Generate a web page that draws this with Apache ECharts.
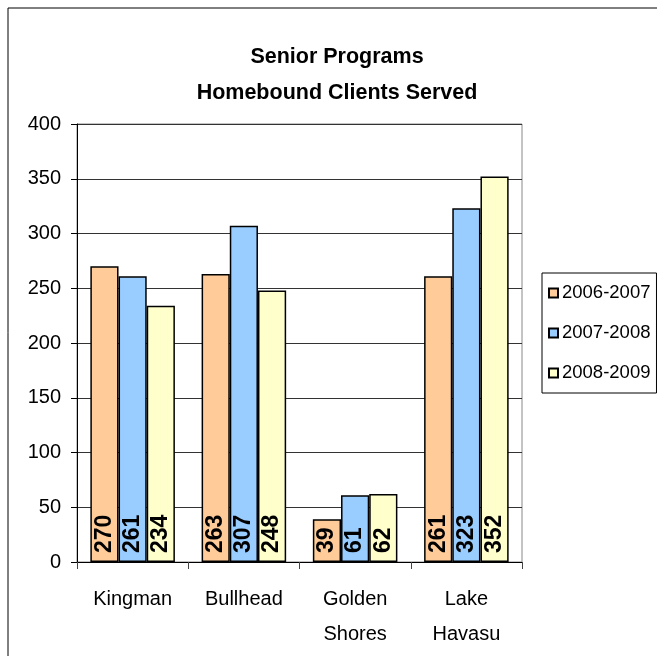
<!DOCTYPE html>
<html>
<head>
<meta charset="utf-8">
<script src="https://cdn.jsdelivr.net/npm/echarts@6/dist/echarts.min.js"></script>
<style>
html,body{margin:0;padding:0;background:#fff;}
#chart{width:657px;height:656px;}
</style>
</head>
<body>
<div id="chart"></div>
<script>
const categories = ['Kingman', 'Bullhead', 'Golden\nShores', 'Lake\nHavasu'];
const seriesNames = ['2006-2007', '2007-2008', '2008-2009'];
const values2006 = [270, 263, 39, 261];
const values2007 = [261, 307, 61, 323];
const values2008 = [234, 248, 62, 352];
const seriesColors = ['#FFCC99', '#99CCFF', '#FFFFCC'];
const yTicks = { min: 0, max: 400, interval: 50 };

const FONT = 'Liberation Sans, Arial, sans-serif';
const allValues = [values2006, values2007, values2008];

const chart = echarts.init(document.getElementById('chart'));
chart.setOption({
  backgroundColor: '#fff',
  animation: false,
  title: {
    text: 'Senior Programs\nHomebound Clients Served',
    left: 332,
    top: 34,
    textAlign: 'center',
    textStyle: {
      fontFamily: FONT,
      fontWeight: 'bold',
      fontSize: 21.5,
      lineHeight: 36,
      color: '#000'
    }
  },
  graphic: [{
    type: 'rect',
    shape: { x: 8, y: 8, width: 800, height: 800 },
    style: { fill: null, stroke: '#000', lineWidth: 1 },
    silent: true
  }],
  legend: {
    orient: 'vertical',
    left: 542,
    top: 273,
    padding: [10, 6, 10, 6],
    itemGap: 20,
    itemWidth: 9,
    itemHeight: 9,
    icon: 'rect',
    borderColor: '#000',
    borderWidth: 1,
    textStyle: { fontFamily: FONT, fontSize: 18.5, lineHeight: 20, color: '#000', padding: [0, 0, 0, -1] },
    data: seriesNames
  },
  grid: {
    left: 77, right: 135, top: 124, bottom: 94,
    show: true, borderColor: '#888', borderWidth: 1
  },
  xAxis: {
    type: 'category',
    data: categories,
    axisLine: { lineStyle: { color: '#000', width: 1 } },
    axisTick: { show: true, length: 7, lineStyle: { color: '#444' } },
    axisLabel: { fontFamily: FONT, fontSize: 20, color: '#000', lineHeight: 35, margin: 20 }
  },
  yAxis: {
    type: 'value',
    min: yTicks.min, max: yTicks.max, interval: yTicks.interval,
    axisLine: { show: true, lineStyle: { color: '#000', width: 1 } },
    axisTick: { show: true, length: 6, lineStyle: { color: '#000' } },
    axisLabel: { fontFamily: FONT, fontSize: 20, color: '#000', margin: 16 },
    splitLine: { lineStyle: { color: '#333', width: 1 } }
  },
  series: seriesNames.map((name, i) => ({
    name: name,
    type: 'bar',
    data: allValues[i],
    barGap: '0%',
    barCategoryGap: '24%',
    itemStyle: { color: seriesColors[i], borderColor: '#000', borderWidth: 1.5 },
    label: {
      show: true,
      position: 'insideBottom',
      rotate: 90,
      align: 'left',
      verticalAlign: 'middle',
      distance: 9,
      fontFamily: FONT,
      fontWeight: 'bold',
      fontSize: 23,
      color: '#000'
    }
  }))
});
</script>
</body>
</html>
